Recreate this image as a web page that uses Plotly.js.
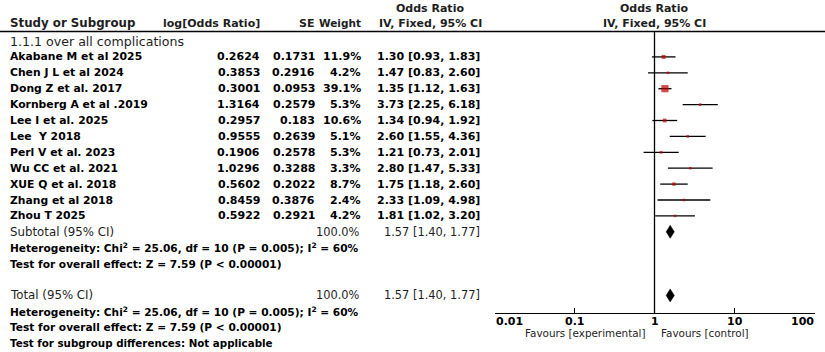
<!DOCTYPE html>
<html><head><meta charset="utf-8">
<script src="https://cdn.plot.ly/plotly-3.0.1.min.js"></script>
<style>html,body{margin:0;padding:0;background:#fff}</style>
</head><body><div id="chart" style="width:825px;height:352px"></div>
<script>
const studies = ["Akabane M et al 2025","Chen J L et al 2024","Dong Z et al. 2017","Kornberg A et al .2019","Lee I et al. 2025","Lee  Y 2018","Perl V et al. 2023","Wu CC et al. 2021","XUE Q et al. 2018","Zhang et al 2018","Zhou T 2025"];
const logOR = ["0.2624","0.3853","0.3001","1.3164","0.2957","0.9555","0.1906","1.0296","0.5602","0.8459","0.5922"];
const seVals = ["0.1731","0.2916","0.0953","0.2579","0.183","0.2639","0.2578","0.3288","0.2022","0.3876","0.2921"];
const weights = [11.9,4.2,39.1,5.3,10.6,5.1,5.3,3.3,8.7,2.4,4.2];
const orVals = [1.30,1.47,1.35,3.73,1.34,2.60,1.21,2.80,1.75,2.33,1.81];
const ciLow = [0.93,0.83,1.12,2.25,0.94,1.55,0.73,1.47,1.18,1.09,1.02];
const ciHigh = [1.83,2.60,1.63,6.18,1.92,4.36,2.01,5.33,2.60,4.98,3.20];
const pooled = {or:1.57, lo:1.40, hi:1.77, weight:100.0};
const tickVals = [0.01,0.1,1,10,100];
const tickText = ["0.01","0.1","1","10","100"];
const groupTitle = "1.1.1 over all complications";
const hetText = "Heterogeneity: Chi<sup>2</sup> = 25.06, df = 10 (P = 0.005); I<sup>2</sup> = 60%";
const effectText = "Test for overall effect: Z = 7.59 (P < 0.00001)";
const subgroupText = "Test for subgroup differences: Not applicable";

const W = 825, H = 352;
const FONT = "DejaVu Sans";
const rowY = i => 41 + 15.9*i;
const px = x => x / W;

const ann = [];
function T(text, x, y, anchor, opts) {
  opts = opts || {};
  ann.push({text: text, xref: 'paper', yref: 'y', x: px(x), y: y, xanchor: anchor, yanchor: 'middle',
    showarrow: false, borderpad: 0,
    font: {family: FONT, size: opts.size || 11, color: opts.color || '#000', weight: opts.bold ? 'bold' : 'normal'}});
}
const HC = '#1e1e1e';
// headers
T("Odds Ratio", 430, 8, 'center', {bold: true, color: HC});
T("Odds Ratio", 654, 8, 'center', {bold: true, color: HC});
T("Study or Subgroup", 9, 23, 'left', {bold: true, color: HC, size: 11.8});
T("log[Odds Ratio]", 261, 23, 'right', {bold: true, color: HC});
T("SE", 315, 23, 'right', {bold: true, color: HC});
T("Weight", 362, 23, 'right', {bold: true, color: HC, size: 10.5});
T("IV, Fixed, 95% CI", 430, 23, 'center', {bold: true, color: HC});
T("IV, Fixed, 95% CI", 654, 23, 'center', {bold: true, color: HC});
T(groupTitle, 9, rowY(0), 'left', {color: HC, size: 12.6});
const fmt = v => v.toFixed(2);
studies.forEach((s, k) => {
  const y = rowY(k+1);
  T(s, 9, y, 'left', {bold: true, size: 10.8});
  T(logOR[k], 261, y, 'right', {bold: true});
  T(seVals[k], 316, y, 'right', {bold: true});
  T(weights[k].toFixed(1) + "%", 362, y, 'right', {bold: true});
  T(fmt(orVals[k]) + " [" + fmt(ciLow[k]) + ", " + fmt(ciHigh[k]) + "]", 481, y, 'right', {bold: true});
});
const pooledStr = fmt(pooled.or) + " [" + fmt(pooled.lo) + ", " + fmt(pooled.hi) + "]";
[[12, "Subtotal (95% CI)"], [16, "Total (95% CI)"]].forEach(([r, lbl]) => {
  T(lbl, 9, rowY(r), 'left', {color: HC, size: 11.8});
  T(pooled.weight.toFixed(1) + "%", 361, rowY(r), 'right', {color: HC, size: 11.4});
  T(pooledStr, 481, rowY(r), 'right', {color: HC, size: 11.4});
});
T(hetText, 9, rowY(13), 'left', {bold: true, size: 10.6});
T(effectText, 9, rowY(14), 'left', {bold: true, size: 10.6});
T(hetText, 9, rowY(17), 'left', {bold: true, size: 10.6});
T(effectText, 9, rowY(18), 'left', {bold: true, size: 10.6});
T(subgroupText, 9, rowY(19), 'left', {bold: true, size: 10.3});
// tick labels
tickVals.forEach((v, k) => {
  ann.push({text: tickText[k], xref: 'x', yref: 'y', x: Math.log10(v), y: 321,
    xanchor: k === 0 ? 'left' : (k === tickVals.length-1 ? 'right' : 'center'), yanchor: 'middle',
    showarrow: false, borderpad: 0, font: {family: FONT, size: 11, color: '#000', weight: 'bold'}});
});
T("Favours [experimental]", 647, 332.5, 'right', {color: HC, size: 10.4});
T("Favours [control]", 660, 332.5, 'left', {color: HC, size: 10.4});

// CI lines
const lx = [], ly = [];
studies.forEach((s, k) => { lx.push(ciLow[k], ciHigh[k], null); ly.push(rowY(k+1), rowY(k+1), null); });
const traces = [
  {type: 'scatter', mode: 'lines', x: lx, y: ly, line: {color: '#000', width: 1.3}, hoverinfo: 'skip'},
  {type: 'scatter', mode: 'markers', x: orVals, y: studies.map((s, k) => rowY(k+1)),
   marker: {symbol: 'square', color: '#C00000', size: weights.map(w => Math.max(2.5, 1.15*Math.sqrt(w))), line: {width: 0}}}
];
[12, 16].forEach(r => {
  const y = rowY(r);
  traces.push({type: 'scatter', mode: 'lines', fill: 'toself', fillcolor: '#000',
    x: [pooled.lo, pooled.or, pooled.hi, pooled.or, pooled.lo],
    y: [y, y-6.5, y, y+6.5, y], line: {color: '#000', width: 0.5}});
});

const layout = {
  width: W, height: H, margin: {l: 0, r: 0, t: 0, b: 0, pad: 0},
  paper_bgcolor: '#fff', plot_bgcolor: 'rgba(0,0,0,0)', showlegend: false,
  xaxis: {type: 'log', range: [-2, 2], domain: [494.5/W, 814.5/W], anchor: 'free', position: 1 - 313/H,
    showline: true, linecolor: '#000', linewidth: 1.3, ticks: 'inside', ticklen: 5, tickwidth: 1.3, tickcolor: '#000',
    tickvals: tickVals, showticklabels: false, showgrid: false, zeroline: false, fixedrange: true},
  yaxis: {range: [H, 0], domain: [0, 1], visible: false, showgrid: false, zeroline: false, fixedrange: true},
  shapes: [
    {type: 'line', xref: 'paper', yref: 'y', x0: 0, x1: 1, y0: 31.5, y1: 31.5, line: {color: '#000', width: 1.3}},
    {type: 'line', xref: 'x', yref: 'y', x0: 1, x1: 1, y0: 31.5, y1: 313, line: {color: '#000', width: 1.3}}
  ],
  annotations: ann
};
Plotly.newPlot('chart', traces, layout, {staticPlot: true, displayModeBar: false});
</script></body></html>
